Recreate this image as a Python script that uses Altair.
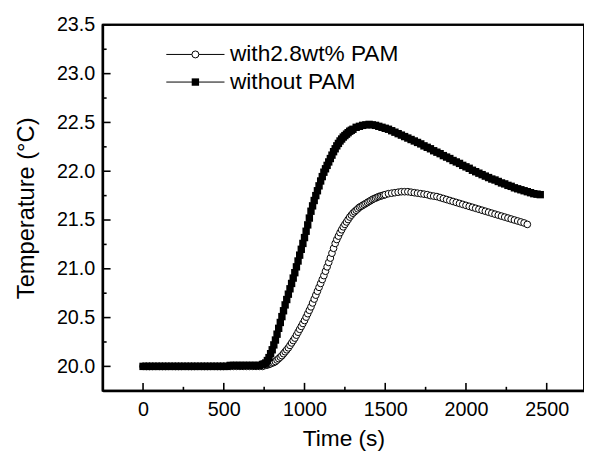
import altair as alt
import pandas as pd

# ---------------- data ----------------
# without PAM: 0-720 s every 20 s, 740-1300 s every 10 s, 1320-2460 s every 20 s
T_WITHOUT = list(range(0, 721, 20)) + list(range(740, 1301, 10)) + list(range(1320, 2461, 20))
V_WITHOUT = [
    # 0 .. 720
    20.00, 20.00, 20.00, 20.00, 20.00, 20.00, 20.00, 20.00, 20.00, 20.00,
    20.00, 20.00, 20.00, 20.00, 20.00, 20.00, 20.00, 20.00, 20.00, 20.00,
    20.00, 20.00, 20.00, 20.00, 20.00, 20.00, 20.00,
    20.01, 20.01, 20.01, 20.01, 20.01, 20.01, 20.01, 20.01, 20.01, 20.01,
    # 740 .. 1300 (10 s)
    20.02, 20.025, 20.035, 20.06, 20.09, 20.13, 20.17, 20.22, 20.27, 20.33,
    20.39, 20.45, 20.51, 20.57, 20.63, 20.685, 20.74, 20.795, 20.85, 20.905,
    20.96, 21.02, 21.08, 21.14, 21.20, 21.26, 21.32, 21.385, 21.45, 21.52,
    21.59, 21.645, 21.70, 21.75, 21.80, 21.85, 21.90, 21.945, 21.99, 22.025,
    22.06, 22.095, 22.13, 22.165, 22.20, 22.23, 22.26, 22.285, 22.31, 22.33,
    22.35, 22.365, 22.38, 22.395, 22.41, 22.42, 22.43,
    # 1320 .. 2460
    22.45, 22.46, 22.47, 22.475, 22.48, 22.475, 22.47, 22.46, 22.45, 22.44,
    22.43, 22.415, 22.40, 22.385, 22.37, 22.355, 22.34, 22.325, 22.31, 22.295,
    22.28, 22.26, 22.245, 22.23, 22.21, 22.195, 22.18, 22.16, 22.145, 22.13,
    22.11, 22.095, 22.08, 22.06, 22.045, 22.03, 22.01, 21.995, 21.98, 21.965,
    21.95, 21.935, 21.92, 21.91, 21.895, 21.88, 21.87, 21.855, 21.845, 21.83,
    21.82, 21.81, 21.80, 21.79, 21.78, 21.77, 21.765, 21.76,
]

# with 2.8 wt% PAM: 0-740 s every 20 s, 760-1500 s every 10 s, 1520-2380 s every 20 s
T_WITH = list(range(0, 741, 20)) + list(range(760, 1501, 10)) + list(range(1520, 2381, 20))
V_WITH = [
    # 0 .. 740
    20.00, 20.00, 20.00, 20.00, 20.00, 20.00, 20.00, 20.00, 20.00, 20.00,
    20.00, 20.00, 20.00, 20.00, 20.00, 20.00, 20.00, 20.00, 20.00, 20.00,
    20.00, 20.00, 20.00, 20.00, 20.00, 20.00, 20.00, 20.00, 20.00, 20.00,
    20.00, 20.00, 20.00, 20.00, 20.00, 20.00, 20.00, 20.00,
    # 760 .. 1500 (10 s)
    20.01, 20.015, 20.02, 20.027, 20.035, 20.04, 20.05, 20.065, 20.08, 20.095,
    20.11, 20.13, 20.15, 20.17, 20.19, 20.215, 20.24, 20.265, 20.29, 20.32,
    20.35, 20.38, 20.41, 20.44, 20.47, 20.505, 20.54, 20.575, 20.61, 20.65,
    20.69, 20.73, 20.77, 20.81, 20.85, 20.89, 20.93, 20.975, 21.02, 21.065,
    21.11, 21.16, 21.21, 21.26, 21.30, 21.335, 21.37, 21.40, 21.43, 21.455,
    21.48, 21.505, 21.53, 21.55, 21.57, 21.585, 21.60, 21.615, 21.63, 21.64,
    21.65, 21.66, 21.67, 21.68, 21.69, 21.70, 21.71, 21.718, 21.725, 21.733,
    21.74, 21.745, 21.75, 21.755, 21.76,
    # 1520 .. 2380
    21.77, 21.775, 21.78, 21.785, 21.79, 21.79, 21.79, 21.785, 21.78, 21.775,
    21.77, 21.765, 21.76, 21.75, 21.745, 21.74, 21.73, 21.72, 21.71, 21.70,
    21.69, 21.68, 21.67, 21.66, 21.65, 21.64, 21.63, 21.62, 21.61, 21.60,
    21.59, 21.58, 21.57, 21.56, 21.55, 21.54, 21.53, 21.52, 21.51, 21.50,
    21.49, 21.48, 21.47, 21.455,
]

X_MAJOR = [0, 500, 1000, 1500, 2000, 2500]
X_MINOR = [250, 750, 1250, 1750, 2250]
Y_MAJOR = [20.0, 20.5, 21.0, 21.5, 22.0, 22.5, 23.0, 23.5]
Y_MINOR = [20.25, 20.75, 21.25, 21.75, 22.25, 22.75, 23.25]
LEGEND_LABELS = ["with2.8wt% PAM", "without PAM"]

# --------------- chart ----------------
W, H = 488, 371
FONT = "Liberation Sans"
BLACK = "#000000"

df_without = pd.DataFrame({"t": T_WITHOUT, "v": V_WITHOUT})
df_with = pd.DataFrame({"t": T_WITH, "v": V_WITH})
df_xmaj = pd.DataFrame({"t": X_MAJOR})
df_xmin = pd.DataFrame({"t": X_MINOR})
df_ymaj = pd.DataFrame({"v": Y_MAJOR})
df_ymin = pd.DataFrame({"v": Y_MINOR})

xs = alt.Scale(domain=[-250, 2731], nice=False, zero=False)
ys = alt.Scale(domain=[19.75, 23.5], nice=False, zero=False)

x_axis = alt.Axis(
    title="Time (s)", values=X_MAJOR, format="d", ticks=False, domain=True,
    domainColor=BLACK, domainWidth=2,
    grid=False, labelFontSize=20, labelPadding=9, titleFontSize=23,
    titleFontWeight="normal", titlePadding=8, labelColor=BLACK,
    titleColor=BLACK, labelFont=FONT, titleFont=FONT)
y_axis = alt.Axis(
    title="Temperature (°C)", values=Y_MAJOR, format=".1f", ticks=False,
    domain=True, domainColor=BLACK, domainWidth=2,
    grid=False, labelFontSize=20, labelPadding=8,
    titleFontSize=24, titleFontWeight="normal", titlePadding=18,
    labelColor=BLACK, titleColor=BLACK, labelFont=FONT, titleFont=FONT)

x_enc = alt.X("t:Q", scale=xs, axis=x_axis)
y_enc = alt.Y("v:Q", scale=ys, axis=y_axis)

# data series
line_with = alt.Chart(df_with).mark_line(stroke=BLACK, strokeWidth=1).encode(x=x_enc, y=y_enc)
pts_with = alt.Chart(df_with).mark_point(
    shape="circle", filled=False, fill="#ffffff", fillOpacity=1, stroke=BLACK,
    strokeWidth=1, size=46, opacity=1).encode(x=x_enc, y=y_enc)
line_without = alt.Chart(df_without).mark_line(stroke=BLACK, strokeWidth=2).encode(x=x_enc, y=y_enc)
pts_without = alt.Chart(df_without).mark_point(
    shape="square", filled=True, fill=BLACK, size=56, opacity=1).encode(x=x_enc, y=y_enc)


def seg(path, size, width=1.6):
    """Open path symbol used for ticks, frame and legend lines."""
    return dict(shape=path, filled=False, fillOpacity=0, stroke=BLACK,
                strokeWidth=width, size=size, opacity=1)


# inward ticks positioned through the scales (path length = sqrt(size))
xt_major = alt.Chart(df_xmaj).mark_point(**seg("M0,0L0,-2", 64)).encode(
    x=alt.X("t:Q", scale=xs, axis=x_axis), y=alt.value(H))
xt_minor = alt.Chart(df_xmin).mark_point(**seg("M0,0L0,-2", 16)).encode(
    x=alt.X("t:Q", scale=xs, axis=x_axis), y=alt.value(H))
yt_major = alt.Chart(df_ymaj).mark_point(**seg("M0,0L2,0", 64)).encode(
    y=alt.Y("v:Q", scale=ys, axis=y_axis), x=alt.value(0))
yt_minor = alt.Chart(df_ymin).mark_point(**seg("M0,0L2,0", 16)).encode(
    y=alt.Y("v:Q", scale=ys, axis=y_axis), x=alt.value(0))

# frame (left, bottom, top)
frame_df = pd.DataFrame({"label": ["frame"]})
frame_top = alt.Chart(frame_df).mark_point(**seg("M-1,0L1,0", W * W, 2)).encode(
    x=alt.value(W / 2), y=alt.value(0))
frame_bottom = alt.Chart(frame_df).mark_point(**seg("M-1,0L1,0", W * W, 2)).encode(
    x=alt.value(W / 2), y=alt.value(H))
frame_left = alt.Chart(frame_df).mark_point(**seg("M0,-1L0,1", H * H, 2)).encode(
    x=alt.value(0), y=alt.value(H / 2))

# legend
leg_df1 = pd.DataFrame({"label": [LEGEND_LABELS[0]]})
leg_df2 = pd.DataFrame({"label": [LEGEND_LABELS[1]]})
R1, R2 = 30, 58
LM, LT, LLEN = 94, 129, 59

leg_line1 = alt.Chart(leg_df1).mark_point(**seg("M-1,0L1,0", LLEN * LLEN, 1)).encode(
    x=alt.value(LM), y=alt.value(R1))
leg_pt1 = alt.Chart(leg_df1).mark_point(
    shape="circle", filled=False, fill="#ffffff", fillOpacity=1, stroke=BLACK,
    strokeWidth=1, size=50, opacity=1).encode(x=alt.value(LM), y=alt.value(R1))
leg_txt1 = alt.Chart(leg_df1).mark_text(
    align="left", baseline="middle", fontSize=23, font=FONT, color=BLACK).encode(
    x=alt.value(LT), y=alt.value(R1), text="label:N")
leg_line2 = alt.Chart(leg_df2).mark_point(**seg("M-1,0L1,0", LLEN * LLEN, 1)).encode(
    x=alt.value(LM), y=alt.value(R2))
leg_pt2 = alt.Chart(leg_df2).mark_point(
    shape="square", filled=True, fill=BLACK, size=56, opacity=1).encode(
    x=alt.value(LM), y=alt.value(R2))
leg_txt2 = alt.Chart(leg_df2).mark_text(
    align="left", baseline="middle", fontSize=23, font=FONT, color=BLACK).encode(
    x=alt.value(LT), y=alt.value(R2), text="label:N")

chart = alt.layer(
    line_with, pts_with, line_without, pts_without,
    leg_line1, leg_pt1, leg_txt1, leg_line2, leg_pt2, leg_txt2,
    xt_major, xt_minor, yt_major, yt_minor,
    frame_top, frame_bottom, frame_left,
).properties(
    width=W, height=H,
    autosize=alt.AutoSizeParams(type="none"),
    padding={"left": 96, "top": 14, "right": 0, "bottom": 60},
).configure(
    background="#ffffff",
    view=alt.ViewConfig(stroke=BLACK, strokeWidth=2),
)

chart.save("out.html", embed_options={"renderer": "svg", "actions": False})
